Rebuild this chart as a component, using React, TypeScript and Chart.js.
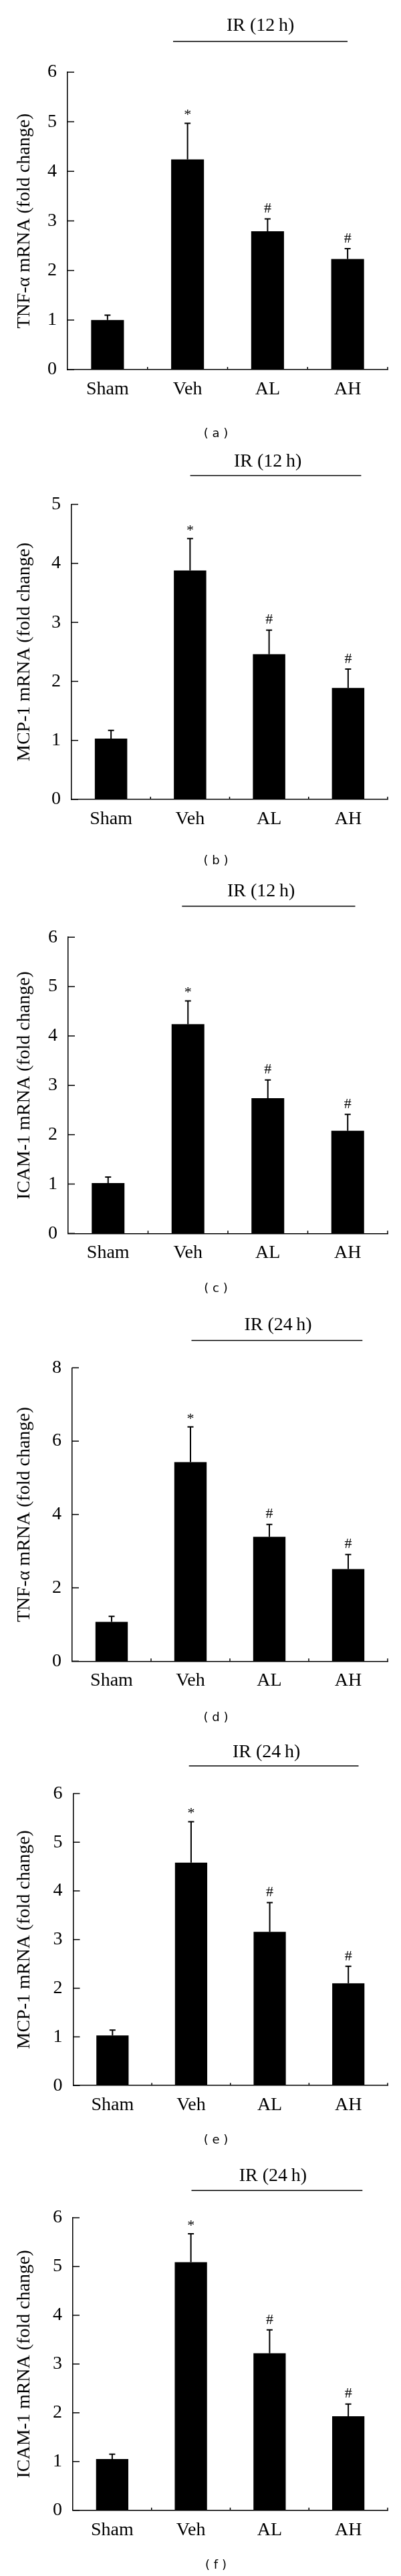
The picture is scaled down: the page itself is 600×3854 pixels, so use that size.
import React, { useEffect, useRef } from "react";
import { Chart, registerables } from "chart.js";

Chart.register(...registerables);

// ---------------- DATA ----------------
const categories = ["Sham", "Veh", "AL", "AH"];
const markers = ["", "*", "#", "#"];

const tnf12Mean = [1.0, 4.24, 2.79, 2.23];
const tnf12Err = [0.1, 0.73, 0.25, 0.21];
const mcp12Mean = [1.03, 3.88, 2.46, 1.89];
const mcp12Err = [0.14, 0.54, 0.41, 0.32];
const icam12Mean = [1.02, 4.24, 2.74, 2.08];
const icam12Err = [0.12, 0.47, 0.37, 0.33];
const tnf24Mean = [1.07, 5.43, 3.39, 2.51];
const tnf24Err = [0.15, 0.96, 0.34, 0.4];
const mcp24Mean = [1.03, 4.58, 3.16, 2.1];
const mcp24Err = [0.11, 0.84, 0.6, 0.35];
const icam24Mean = [1.05, 5.09, 3.22, 1.93];
const icam24Err = [0.1, 0.58, 0.48, 0.25];

const panelLetters = ["a", "b", "c", "d", "e", "f"];
const yTitles = [
  "TNF-\u03b1 mRNA (fold change)",
  "MCP-1 mRNA (fold change)",
  "ICAM-1 mRNA (fold change)",
  "TNF-\u03b1 mRNA (fold change)",
  "MCP-1 mRNA (fold change)",
  "ICAM-1 mRNA (fold change)",
];
const irLabels = ["IR (12\u2009h)", "IR (12\u2009h)", "IR (12\u2009h)", "IR (24\u2009h)", "IR (24\u2009h)", "IR (24\u2009h)"];
const yMaxes = [6, 5, 6, 8, 6, 6];
const ySteps = [1, 1, 1, 2, 1, 1];
const means = [tnf12Mean, mcp12Mean, icam12Mean, tnf24Mean, mcp24Mean, icam24Mean];
const errs = [tnf12Err, mcp12Err, icam12Err, tnf24Err, mcp24Err, icam24Err];

// ---------------- LAYOUT (page pixels) ----------------
const LAYOUT = [
  { top: 0, bottom: 668, axisX: 101, yTop: 108, yZero: 553, irX: 339, irY: 45.5, lineY: 62, lineX1: 259, lineX2: 520, capY: 649 },
  { top: 668, bottom: 1310, axisX: 107, yTop: 754.6, yZero: 1196, irX: 350, irY: 698, lineY: 711.6, lineX1: 284.6, lineX2: 540.4, capY: 1288.7 },
  { top: 1310, bottom: 1954, axisX: 102, yTop: 1402.2, yZero: 1845.3, irX: 340, irY: 1341, lineY: 1355.8, lineX1: 272.3, lineX2: 531.5, capY: 1928.7 },
  { top: 1954, bottom: 2595, axisX: 108, yTop: 2046.4, yZero: 2485.3, irX: 365.4, irY: 1989.5, lineY: 2005.5, lineX1: 286.5, lineX2: 542.3, capY: 2570.8 },
  { top: 2595, bottom: 3228, axisX: 109.5, yTop: 2683.4, yZero: 3120.2, irX: 348, irY: 2628.7, lineY: 2642.1, lineX1: 282.7, lineX2: 536.5, capY: 3202.4 },
  { top: 3228, bottom: 3854, axisX: 109, yTop: 3318, yZero: 3755.7, irX: 357.7, irY: 3262.6, lineY: 3277.2, lineX1: 286.5, lineX2: 542.3, capY: 3838.3 },
];

const SERIF = '"Liberation Serif", "Times New Roman", serif';
const SANS = '"DejaVu Sans", sans-serif';
const FONT_SIZE = 28;
const AXIS_RIGHT = 580;
const X_AXIS_H = 50;

function Panel({ idx }: { idx: number }) {
  const ref = useRef<HTMLCanvasElement | null>(null);
  const L = LAYOUT[idx];
  const h = L.bottom - L.top;

  useEffect(() => {
    if (!ref.current) return;
    const mean = means[idx];
    const err = errs[idx];
    const loc = (v: number) => v - L.top;

    const annot = {
      id: "annot" + idx,
      afterDatasetsDraw(chart: any) {
        const { ctx, scales } = chart;
        const y = scales.y;
        const meta = chart.getDatasetMeta(0);
        ctx.save();
        ctx.strokeStyle = "#000";
        ctx.fillStyle = "#000";
        ctx.lineWidth = 2;
        meta.data.forEach((bar: any, i: number) => {
          const cx = bar.x;
          const base = y.getPixelForValue(mean[i]);
          const top = y.getPixelForValue(mean[i] + err[i]);
          ctx.beginPath();
          ctx.moveTo(cx, base);
          ctx.lineTo(cx, top);
          ctx.moveTo(cx - 4.5, top);
          ctx.lineTo(cx + 4.5, top);
          ctx.stroke();
          if (markers[i]) {
            ctx.font = `22px ${SERIF}`;
            ctx.textAlign = "center";
            ctx.textBaseline = "middle";
            ctx.fillText(markers[i], cx, top - (markers[i] === "*" ? 12 : 15));
          }
        });
        ctx.restore();
      },
      afterDraw(chart: any) {
        const { ctx, scales, chartArea } = chart;
        const x = scales.x;
        const y = scales.y;
        ctx.save();
        ctx.strokeStyle = "#000";
        ctx.fillStyle = "#000";
        ctx.lineWidth = 1.5;
        // inner y ticks
        for (let v = 0; v <= yMaxes[idx] + 1e-9; v += ySteps[idx]) {
          const py = y.getPixelForValue(v);
          ctx.beginPath();
          ctx.moveTo(chartArea.left, py);
          ctx.lineTo(chartArea.left + 10, py);
          ctx.stroke();
        }
        // inner x ticks at category boundaries
        for (let i = 0; i < categories.length; i++) {
          const px = x.getPixelForValue(i + 0.5);
          ctx.beginPath();
          ctx.moveTo(px, chartArea.bottom);
          ctx.lineTo(px, chartArea.bottom - 4);
          ctx.stroke();
        }
        // IR annotation
        ctx.font = `${FONT_SIZE}px ${SERIF}`;
        ctx.textAlign = "left";
        ctx.textBaseline = "alphabetic";
        ctx.fillText(irLabels[idx], L.irX, loc(L.irY));
        ctx.beginPath();
        ctx.moveTo(L.lineX1, loc(L.lineY));
        ctx.lineTo(L.lineX2, loc(L.lineY));
        ctx.stroke();
        // caption
        ctx.font = `18px ${SANS}`;
        ctx.textAlign = "center";
        ctx.textBaseline = "middle";
        ctx.fillText(`( ${panelLetters[idx]} )`, 323, loc(L.capY));
        ctx.restore();
      },
    };

    const chart = new Chart(ref.current, {
      type: "bar",
      data: {
        labels: categories,
        datasets: [
          {
            data: mean,
            backgroundColor: "#000",
            borderWidth: 0,
            barPercentage: 0.41,
            categoryPercentage: 1,
          },
        ],
      },
      options: {
        responsive: false,
        animation: false,
        devicePixelRatio: 1,
        layout: {
          padding: {
            top: loc(L.yTop),
            left: 0,
            right: 600 - AXIS_RIGHT,
            bottom: h - loc(L.yZero) - X_AXIS_H,
          },
        },
        plugins: {
          legend: { display: false },
          tooltip: { enabled: false },
          title: { display: false },
        },
        scales: {
          x: {
            type: "category",
            offset: true,
            grid: { display: false, drawTicks: false },
            border: { display: true, color: "#000", width: 1.5 },
            ticks: {
              color: "#000",
              font: { family: SERIF, size: FONT_SIZE },
              padding: 13,
              maxRotation: 0,
              autoSkip: false,
            },
            afterFit: (s: any) => {
              s.height = X_AXIS_H;
            },
          },
          y: {
            min: 0,
            max: yMaxes[idx],
            grid: { display: false, drawTicks: false },
            border: { display: true, color: "#000", width: 1.5 },
            ticks: {
              stepSize: ySteps[idx],
              color: "#000",
              font: { family: SERIF, size: FONT_SIZE },
              padding: 16,
            },
            title: {
              display: true,
              text: yTitles[idx],
              color: "#000",
              font: { family: SERIF, size: FONT_SIZE, weight: "normal" },
              padding: { top: 20, bottom: 0 },
            },
            afterFit: (s: any) => {
              s.width = L.axisX;
            },
          },
        },
      } as any,
      plugins: [annot],
    });
    return () => chart.destroy();
  }, [idx]);

  return (
    <div style={{ position: "absolute", left: 0, top: L.top, width: 600, height: h }}>
      <canvas ref={ref} width={600} height={h} style={{ display: "block", width: 600, height: h }} />
    </div>
  );
}

export default function App() {
  return (
    <div style={{ position: "absolute", left: 0, top: 0, width: 600, height: 3854, background: "#fff" }}>
      {LAYOUT.map((_, i) => (
        <Panel key={i} idx={i} />
      ))}
    </div>
  );
}
